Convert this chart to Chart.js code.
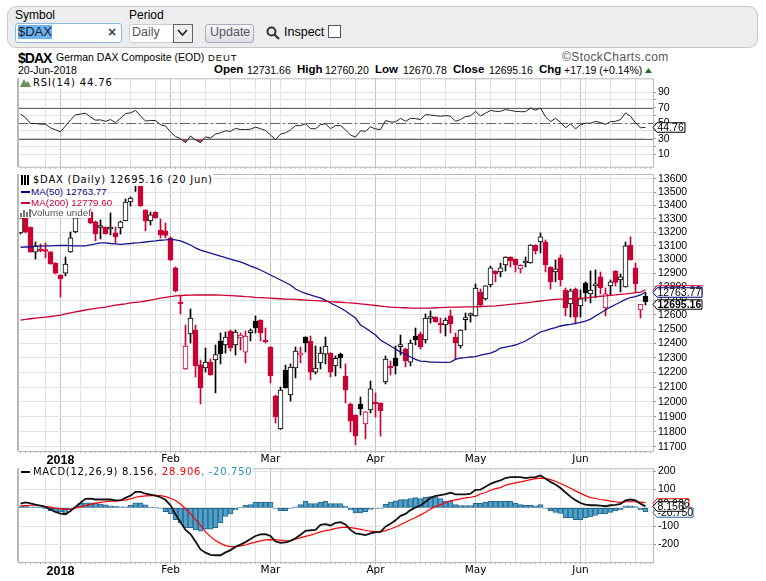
<!DOCTYPE html>
<html>
<head>
<meta charset="utf-8">
<script src="https://cdn.jsdelivr.net/npm/chart.js@4/dist/chart.umd.min.js"></script>
<style>
  html, body { margin: 0; padding: 0; background: #fff; }
  body { width: 766px; height: 581px; position: relative; overflow: hidden; font-family: "Liberation Sans", Arial, sans-serif; color: #000; }
  canvas { position: absolute; left: 0; }
  .t { position: absolute; white-space: nowrap; font-size: 12px; line-height: 14px; }
  .s { position: absolute; white-space: nowrap; font-size: 10.5px; line-height: 13px; }
  .b { font-weight: bold; font-size: 11.5px; }
  .lg { position: absolute; white-space: nowrap; background: #fff; font-family: "DejaVu Sans", sans-serif; font-size: 10px; z-index: 5; padding-left: 14px; left: 19px; }
  .ma { font-family: "Liberation Sans", sans-serif; font-size: 9.8px; padding-left: 12px; }
  .lg i { position: absolute; left: 2px; top: 5px; width: 9px; height: 2px; }
  #bar { position: absolute; left: 7px; top: 6px; width: 749px; height: 40px; background: #ebedef; border: 1px solid #c8c8c8; border-radius: 9px; }
</style>
</head>
<body>
<div id="bar"></div>
<div class="t" style="left:15px;top:8px">Symbol</div>
<div class="t" style="left:129px;top:8px">Period</div>
<div style="position:absolute;left:15px;top:23px;width:105px;height:18px;background:#fff;border:1px solid #8cb8e0;border-radius:3px"></div>
<div class="t" style="left:18px;top:25px;font-size:13px;background:#6fb0ee;color:#123">$DAX</div>
<div class="t" style="left:108px;top:25px;font-size:14px;font-weight:bold;color:#444">×</div>
<div style="position:absolute;left:129px;top:24px;width:62px;height:17px;background:#fff;border:1px solid #ccc;border-radius:3px"></div>
<div class="t" style="left:132px;top:25px;color:#555;font-size:12.5px">Daily</div>
<div style="position:absolute;left:173px;top:24px;width:18px;height:17px;background:#eee;border:1px solid #666"></div>
<svg style="position:absolute;left:177px;top:29px" width="11" height="8"><path d="M1 1 L5.5 6 L10 1" fill="none" stroke="#222" stroke-width="1.7"/></svg>
<div style="position:absolute;left:205px;top:24px;width:47px;height:17px;background:linear-gradient(#f6f6f6,#dcdfe3);border:1px solid #aab;border-radius:3px"></div>
<div class="t" style="left:210px;top:25px;color:#556;font-size:12.5px">Update</div>
<svg style="position:absolute;left:266px;top:26px" width="14" height="14"><circle cx="5.5" cy="5.5" r="4" fill="none" stroke="#333" stroke-width="2"/><path d="M8.5 8.5 L13 13" stroke="#333" stroke-width="2.2"/></svg>
<div class="t" style="left:284px;top:25px;font-size:12.5px">Inspect</div>
<div style="position:absolute;left:328px;top:25px;width:11px;height:11px;background:#fff;border:1px solid #555"></div>

<div class="t" style="left:18px;top:49px;font-weight:bold;font-size:14px;letter-spacing:-1px;line-height:18px">$DAX</div>
<div class="t" style="left:56px;top:50px;font-size:10.5px">German DAX Composite (EOD)</div>
<div class="t" style="left:208px;top:51px;font-size:9.5px;letter-spacing:.9px">DEUT</div>
<div class="t" style="left:562px;top:50px;font-size:12px;color:#555;letter-spacing:.4px">©StockCharts.com</div>
<div class="s" style="left:18px;top:64px">20-Jun-2018</div>
<div class="s b" style="left:214px;top:63px">Open</div><div class="s" style="left:247px;top:64px">12731.66</div>
<div class="s b" style="left:297px;top:63px">High</div><div class="s" style="left:325px;top:64px">12760.20</div>
<div class="s b" style="left:375px;top:63px">Low</div><div class="s" style="left:403px;top:64px">12670.78</div>
<div class="s b" style="left:453px;top:63px">Close</div><div class="s" style="left:489px;top:64px">12695.16</div>
<div class="s b" style="left:539px;top:63px">Chg</div><div class="s" style="left:564px;top:64px">+17.19 (+0.14%)</div>
<svg style="position:absolute;left:645px;top:68px" width="8" height="6"><path d="M0 5 L3.5 0 L7 5 Z" fill="#2a6a2a"/></svg>

<canvas id="rsi-chart" width="766" height="105" style="top:70px"></canvas>
<canvas id="price-chart" width="766" height="305" style="top:165px"></canvas>
<canvas id="macd-chart" width="766" height="118" style="top:460px"></canvas>

<div class="lg" style="top:77px;height:12px;line-height:12px;letter-spacing:.85px">RSI(14) 44.76<svg style="position:absolute;left:1px;top:1px" width="11" height="10"><path d="M0 9 L4 1 L6 5 L8 3 L11 9 Z" fill="#6b8f5a"/></svg></div>
<div class="lg" style="top:174px;height:12px;line-height:12px;letter-spacing:.75px">$DAX (Daily) 12695.16 (20 Jun)<svg style="position:absolute;left:2px;top:1px" width="10" height="10"><path d="M1 0V10M4 0V10M7 0V10" stroke="#000" stroke-width="2"/></svg></div>
<div class="lg ma" style="top:186px;height:11px;line-height:11px;color:#000080">MA(50) 12763.77<i style="background:#000080"></i></div>
<div class="lg ma" style="top:197px;height:11px;line-height:11px;color:#cc0033">MA(200) 12779.60<i style="background:#cc0033"></i></div>
<div class="lg ma" style="top:208px;height:10px;line-height:10px;color:#555">Volume undef<svg style="position:absolute;left:1px;top:0" width="11" height="10"><path d="M1 9V5M4 9V2M7 9V4M10 9V1" stroke="#777" stroke-width="2"/></svg></div>
<div class="lg" style="top:466px;height:12px;line-height:12px;letter-spacing:.7px">MACD(12,26,9) 8.156<span style="color:#f00">, 28.906</span><span style="color:#2b8fc7">, -20.750</span><i style="background:#000;top:5px"></i></div>

<script>
// Dias de pregão (Xetra) e faixas de grade
const dates = [
  '2017-12-18','2017-12-19','2017-12-20','2017-12-21','2017-12-22','2017-12-27','2017-12-28','2017-12-29',
  '2018-01-02','2018-01-03','2018-01-04','2018-01-05','2018-01-08','2018-01-09','2018-01-10','2018-01-11','2018-01-12',
  '2018-01-15','2018-01-16','2018-01-17','2018-01-18','2018-01-19','2018-01-22','2018-01-23','2018-01-24','2018-01-25','2018-01-26',
  '2018-01-29','2018-01-30','2018-01-31','2018-02-01','2018-02-02','2018-02-05','2018-02-06','2018-02-07','2018-02-08','2018-02-09',
  '2018-02-12','2018-02-13','2018-02-14','2018-02-15','2018-02-16','2018-02-19','2018-02-20','2018-02-21','2018-02-22','2018-02-23',
  '2018-02-26','2018-02-27','2018-02-28','2018-03-01','2018-03-02','2018-03-05','2018-03-06','2018-03-07','2018-03-08','2018-03-09',
  '2018-03-12','2018-03-13','2018-03-14','2018-03-15','2018-03-16','2018-03-19','2018-03-20','2018-03-21','2018-03-22','2018-03-23',
  '2018-03-26','2018-03-27','2018-03-28','2018-03-29','2018-04-03','2018-04-04','2018-04-05','2018-04-06',
  '2018-04-09','2018-04-10','2018-04-11','2018-04-12','2018-04-13','2018-04-16','2018-04-17','2018-04-18','2018-04-19','2018-04-20',
  '2018-04-23','2018-04-24','2018-04-25','2018-04-26','2018-04-27','2018-04-30','2018-05-02','2018-05-03','2018-05-04',
  '2018-05-07','2018-05-08','2018-05-09','2018-05-10','2018-05-11','2018-05-14','2018-05-15','2018-05-16','2018-05-17','2018-05-18',
  '2018-05-22','2018-05-23','2018-05-24','2018-05-25','2018-05-28','2018-05-29','2018-05-30','2018-05-31','2018-06-01',
  '2018-06-04','2018-06-05','2018-06-06','2018-06-07','2018-06-08','2018-06-11','2018-06-12','2018-06-13','2018-06-14','2018-06-15',
  '2018-06-18','2018-06-19','2018-06-20','2018-06-21'
];
const weekIdx = [5, 12, 17, 22, 27, 32, 37, 42, 47, 52, 57, 62, 67, 75, 80, 85, 94, 99, 104, 108, 113, 118, 123];
const monthIdx = [8, 30, 50, 71, 91, 112];
const monthLabels = ['2018', 'Feb', 'Mar', 'Apr', 'May', 'Jun'];

// Velas diárias $DAX
const opens = [
  13194,13306,13238,13053,13064,13061,13054,12973,12886,12900,
  13054,13201,13313,13402,13350,13276,13234,13238,13223,13194,
  13231,13283,13425,13550,13548,13365,13283,13350,13216,13209,
  13157,12937,12682,12223,12466,12494,12251,12230,12271,12285,
  12417,12389,12487,12389,12438,12340,12476,12557,12564,12424,
  12375,12039,11818,12216,12046,12230,12319,12445,12417,12202,
  12265,12326,12333,12244,12326,12175,11985,11911,11985,11852,
  11945,11990,11992,12134,12234,12299,12378,12361,12271,12452,
  12466,12424,12575,12585,12543,12529,12593,12445,12382,12567,
  12596,12593,12764,12714,12814,12915,12908,12959,13017,13002,
  12930,12973,12973,13105,13127,13127,12944,12908,13010,12778,
  12678,12785,12664,12828,12750,12807,12872,12649,12807,12915,
  12850,12800,13105,12937,12635,12731.66
];
const highs = [
  13321,13313,13238,13127,13113,13120,13056,12975,12888,13017,
  13201,13328,13417,13410,13365,13283,13291,13238,13343,13238,
  13283,13448,13463,13596,13552,13368,13350,13352,13298,13268,
  13165,12945,12742,12529,12642,12529,12285,12368,12292,12389,
  12473,12480,12494,12494,12473,12487,12501,12593,12566,12508,
  12378,12045,12100,12250,12258,12375,12375,12447,12452,12382,
  12375,12445,12335,12313,12333,12258,11992,11913,12032,11934,
  12141,12060,11994,12313,12278,12382,12459,12368,12424,12508,
  12480,12607,12628,12587,12578,12578,12635,12473,12496,12614,
  12614,12821,12785,12809,12951,12917,12973,13019,13019,13004,
  12960,13017,13107,13107,13194,13142,12946,12995,13032,12792,
  12785,12792,12778,12836,12915,12923,12908,12792,12850,12917,
  12893,13127,13165,12973,12673,12760.20
];
const lows = [
  13186,13194,13053,13002,13054,13010,12964,12893,12727,12879,
  13050,13195,13306,13313,13261,13135,13150,13186,13180,13120,
  13186,13283,13395,13505,13390,13209,13253,13304,13157,13157,
  12990,12765,12607,12220,12403,12168,11985,12202,12180,12060,
  12258,12333,12347,12319,12354,12265,12417,12473,12417,12403,
  12128,11858,11815,12092,12005,12162,12265,12340,12148,12189,
  12223,12258,12168,12175,12230,11992,11798,11713,11911,11752,
  11925,11898,11771,12121,12182,12189,12319,12237,12244,12389,
  12361,12403,12543,12548,12473,12452,12473,12292,12368,12494,
  12550,12591,12656,12706,12800,12836,12872,12915,12944,12908,
  12900,12944,12971,13039,13046,12908,12785,12836,12807,12593,
  12585,12536,12585,12699,12685,12721,12750,12593,12742,12807,
  12764,12798,12993,12764,12578,12670.78
];
const closes = [
  13306,13201,13053,13098,13061,13057,12966,12900,12857,12966,
  13157,13306,13402,13321,13268,13186,13238,13186,13238,13165,
  13276,13425,13455,13559,13395,13283,13328,13306,13179,13175,
  12995,12771,12678,12382,12578,12244,12094,12271,12182,12323,
  12327,12445,12368,12480,12459,12452,12480,12508,12473,12410,
  12175,11898,12080,12094,12237,12347,12333,12403,12202,12230,
  12333,12382,12202,12296,12299,12080,11871,11771,11952,11932,
  12087,11985,11938,12292,12230,12244,12382,12278,12403,12424,
  12375,12578,12580,12550,12529,12564,12536,12403,12494,12571,
  12600,12792,12671,12807,12937,12893,12937,13017,12988,12959,
  12956,12980,13105,13061,13165,12959,12836,12930,12850,12649,
  12771,12585,12714,12757,12778,12821,12792,12750,12836,12832,
  12872,13098,12995,12821,12678,12695.16
];

// Médias móveis
const ma50 = [
  13088,13090,13092,13094,13096,13098,13099,13100,13101,13101,
  13100,13099,13098,13098,13105,13113,13120,13121,13116,13113,
  13110,13113,13116,13120,13122,13127,13131,13135,13140,13143,
  13147,13142,13135,13120,13105,13083,13068,13057,13046,13035,
  13024,13013,13002,12991,12981,12966,12951,12937,12922,12904,
  12886,12868,12850,12832,12814,12785,12767,12753,12742,12731,
  12721,12703,12685,12667,12649,12628,12603,12578,12529,12508,
  12483,12459,12424,12403,12382,12361,12340,12323,12306,12289,
  12278,12275,12271,12271,12269,12269,12271,12289,12299,12302,
  12306,12309,12319,12326,12333,12347,12368,12375,12382,12389,
  12403,12417,12438,12459,12480,12490,12501,12511,12522,12529,
  12533,12540,12547,12557,12571,12593,12614,12635,12656,12674,
  12692,12710,12724,12731,12742,12763.77
];
const ma200 = [
  12564,12568,12573,12577,12581,12585,12589,12594,12599,12607,
  12614,12621,12628,12635,12642,12647,12652,12656,12663,12669,
  12674,12679,12685,12689,12693,12699,12706,12713,12719,12725,
  12730,12735,12738,12740,12741,12742,12742,12742,12742,12742,
  12741,12739,12737,12735,12733,12730,12728,12725,12723,12721,
  12719,12717,12715,12713,12712,12710,12708,12706,12704,12702,
  12700,12697,12694,12692,12690,12687,12685,12682,12679,12675,
  12671,12667,12663,12659,12656,12654,12652,12651,12649,12648,
  12648,12648,12649,12651,12652,12654,12655,12656,12656,12657,
  12657,12658,12660,12661,12663,12665,12668,12671,12675,12678,
  12682,12686,12690,12695,12699,12703,12707,12710,12712,12713,
  12715,12717,12719,12720,12725,12729,12733,12736,12740,12743,
  12747,12750,12754,12759,12763,12779.60
];

// RSI(14)
const rsi = [
  61.8,57.1,49.6,49.6,48.8,48.8,44.1,41.4,39,46.5,
  54.3,60.6,61.8,62.9,58.2,53.9,54.3,52.4,54.7,50.8,
  56.3,62.5,63.3,66.5,59.4,52.7,53.5,53.5,48,46.5,
  38.6,32.8,30,24.9,33.5,28.4,24.9,32.4,30.8,35.9,
  37.5,40.2,39.4,43.3,41.8,41.8,42.2,44.9,42.9,40.6,
  34.7,28.8,35.9,37.5,41.4,46.9,46.9,49.2,42.9,42.9,
  48,49.2,42.9,46.9,46.9,41.4,34.7,32,40.2,39.4,
  45.3,42.6,41.8,53.5,51.6,51.6,56.3,52.4,56.3,55.9,
  54.7,61,60.6,59.8,59,59.8,59,52.4,54.7,58.6,
  59.4,65.3,59.4,62.9,66.5,65.3,65.3,67.6,66.5,65.3,
  64.9,64.9,69.6,66.9,69.6,58.2,52,56.3,51.2,44.1,
  49.2,42.6,48,50,50,52.4,50.8,48.4,52,52.4,
  54.7,63.3,59,50.4,44.1,44.76
];

// MACD(12,26,9)
const macd = [
  22.8,29.8,24.5,17.5,12.3,5.3,-8.8,-22.8,-31.5,-35,
  -17.5,5.3,28,49,50.8,45.5,45.5,45.5,45.5,40.3,
  40.3,54.3,66.5,87.5,87.5,77,71.8,66.5,57.8,43.8,
  14,-35,-77,-120.8,-143.5,-183.8,-227.5,-245,-257.3,-259,
  -259,-243.3,-231,-213.5,-201.3,-187.3,-169.8,-154,-145.3,-143.5,
  -154,-183.8,-190.8,-189,-180.3,-166.3,-147,-126,-122.5,-120.8,
  -92.8,-89.3,-96.3,-82.3,-78.8,-91,-120.8,-140,-143.5,-148.8,
  -140,-133,-131.3,-103.3,-87.5,-68.3,-43.8,-33.3,-12.3,1.8,
  12.3,33.3,54.3,64.8,70,75.3,82.3,73.5,73.5,73.5,
  77,98,99.8,115.5,131.3,141.8,150.5,162.8,168,168,
  168,162.8,166.3,168,176.8,159.3,141.8,127.8,108.5,84,
  61.3,42,26.3,17.5,14,14,12.3,8.8,14,15.8,
  21,40.3,45.5,40.3,22.8,8.156
];
const signal = [
  10.5,12.3,14,14,10.5,7,3.5,-1.8,-5.3,-8.8,
  -8.8,-1.8,5.3,12.3,19.3,24.5,29.8,33.3,36.8,36.8,
  40.3,42,49,57.8,63,64.8,66.5,68.3,66.5,61.3,
  52.5,40.3,21,-5.3,-33.3,-64.8,-96.3,-131.3,-157.5,-178.5,
  -194.3,-206.5,-211.8,-211.8,-208.3,-203,-194.3,-187.3,-180.3,-175,
  -173.3,-175,-176.8,-180.3,-178.5,-171.5,-162.8,-155.8,-148.8,-140,
  -131.3,-124.3,-120.8,-112,-108.5,-105,-108.5,-112,-117.3,-122.5,
  -127.8,-131.3,-131.3,-124.3,-115.5,-105,-92.8,-78.8,-64.8,-52.5,
  -38.5,-24.5,-7,7,17.5,28,38.5,43.8,49,54.3,
  57.8,63,75.3,84,96.3,105,110.3,124.3,131.3,136.5,
  141.8,147,154,159.3,162.8,161,154,145.3,133,120.8,
  106.8,92.8,78.8,66.5,56,50.8,45.5,42,36.8,33.3,
  29.8,33.3,33.3,33.3,31.5,28.906
];
const histogram = [
  10,9,5,5,2,-5,-16,-24,-23,-35,
  -9,5,26,28,28,28,21,15.8,10.5,8.8,
  5.3,5,14,28,28,15.8,3.5,1.8,-3.5,-21,
  -33,-65,-82,-108,-108,-121,-128,-117,-117,-108,
  -82,-47,-33,-12,2,14,17.5,30,30,30,
  30,-3.5,-16,-16,-3.5,5,17.5,35,23,23,
  30,35,23,23,23,10,-12,-28,-28,-21,
  -9,-3.5,-3.5,19,31,38,45,45,51,56,
  51,58,61,61,51,37,38,17.5,12,12,
  12,24.5,24.5,30,35,35,35,35,35,24.5,
  17.5,14,14,10.5,17.5,-3,-17.5,-24.5,-30,-54,
  -54,-65,-65,-54,-49,-42,-33,-33,-24.5,-17.5,
  -12,10.5,10.5,7,-12,-20.75
];

// Ticks dos eixos
const priceTicks = [13600,13500,13400,13300,13200,13100,13000,12900,12800,12700,12600,12500,12400,12300,12200,12100,12000,11900,11800,11700];
const rsiTicks = [10,20,30,40,50,60,70,80,90];
const rsiLabels = [10,30,50,70,90];
const macdTicks = [-200,-100,0,100,200];

const RED = '#cc0033';
const TICK_FONT = { family: 'Liberation Sans', size: 10.5 };

// Cores das velas: preta se fechou acima do dia anterior, vazada se fechou acima da abertura
const candleColor = closes.map((c, i) => (i === 0 || c >= closes[i - 1]) ? '#000' : RED);
const bodyFill = closes.map((c, i) => c >= opens[i] ? '#fff' : candleColor[i]);

// Moldura do painel
const framePlugin = {
  id: 'frame',
  afterDraw(chart) {
    const a = chart.chartArea, ctx = chart.ctx;
    ctx.save();
    ctx.strokeStyle = '#b8b8b8';
    ctx.lineWidth = 1;
    ctx.strokeRect(a.left + 0.5, a.top + 0.5, a.right - a.left, a.bottom - a.top);
    ctx.lineWidth = 2;
    ctx.beginPath();
    ctx.moveTo(a.left, a.top);
    ctx.lineTo(a.left, a.bottom);
    ctx.stroke();
    ctx.restore();
  }
};

// Linhas de referência do RSI (70, 50, 30)
const refLinesPlugin = {
  id: 'refLines',
  beforeDatasetsDraw(chart, args, opts) {
    if (!opts.lines) return;
    const a = chart.chartArea, ctx = chart.ctx, y = chart.scales.y;
    opts.lines.forEach(l => {
      const p = Math.round(y.getPixelForValue(l.value)) + 0.5;
      ctx.save();
      ctx.strokeStyle = '#666';
      ctx.lineWidth = 1;
      ctx.setLineDash(l.dash || []);
      ctx.beginPath();
      ctx.moveTo(a.left, p);
      ctx.lineTo(a.right, p);
      ctx.stroke();
      ctx.restore();
    });
  }
};

// Etiquetas de valor à direita do painel
const tagsPlugin = {
  id: 'valueTags',
  afterDraw(chart, args, opts) {
    if (!opts.tags) return;
    const ctx = chart.ctx, x0 = chart.chartArea.right, y = chart.scales.y;
    opts.tags.forEach(tag => {
      const cy = Math.round(y.getPixelForValue(tag.value) + (tag.dy || 0)) + 0.5;
      const h = tag.h || 9.5;
      ctx.save();
      ctx.beginPath();
      ctx.moveTo(x0, cy);
      ctx.lineTo(x0 + 4, cy - h / 2);
      ctx.lineTo(x0 + tag.w, cy - h / 2);
      ctx.lineTo(x0 + tag.w, cy + h / 2);
      ctx.lineTo(x0 + 4, cy + h / 2);
      ctx.closePath();
      ctx.fillStyle = '#fff';
      ctx.fill();
      ctx.strokeStyle = tag.color;
      ctx.lineWidth = 1;
      ctx.stroke();
      ctx.fillStyle = '#000';
      ctx.font = (tag.bold ? 'bold ' : '') + '10.5px "Liberation Sans"';
      ctx.textBaseline = 'middle';
      ctx.fillText(tag.text, x0 + 4.5, cy + 0.5);
      ctx.restore();
    });
  }
};

Chart.register(framePlugin, refLinesPlugin, tagsPlugin);

// Escala de datas comum aos três painéis
function xScale(height, showLabels) {
  return {
    type: 'category',
    offset: true,
    afterFit(scale) { scale.height = height; },
    grid: {
      offset: false,
      drawTicks: true,
      tickLength: 2,
      tickColor: '#aaa',
      lineWidth: 1,
      color(ctx) {
        if (monthIdx.includes(ctx.index)) return '#c4c4c4';
        if (weekIdx.includes(ctx.index)) return '#e2e2e2';
        return 'rgba(0,0,0,0)';
      }
    },
    border: { display: false },
    ticks: {
      display: showLabels,
      autoSkip: false,
      maxRotation: 0,
      minRotation: 0,
      padding: 0,
      color: '#000',
      font(ctx) {
        return ctx.index === monthIdx[0]
          ? { family: 'Liberation Sans', size: 12.5, weight: 'bold' }
          : { family: 'DejaVu Sans', size: 10.5 };
      },
      callback(v, i) {
        const m = monthIdx.indexOf(i);
        return m >= 0 ? monthLabels[m] : '';
      }
    }
  };
}

// Escala vertical à direita, largura fixa para alinhar os painéis
function yScale(extra) {
  return Object.assign({
    position: 'right',
    afterFit(scale) { scale.width = 113; },
    border: { display: false },
    grid: { color: '#e2e2e2', lineWidth: 1, drawTicks: true, tickLength: 3, tickColor: '#999' }
  }, extra);
}

function baseOptions(padTop, scales, plugins) {
  return {
    responsive: false,
    animation: false,
    events: [],
    layout: { padding: { left: 18, top: padTop, right: 0, bottom: 0 } },
    scales: scales,
    plugins: Object.assign({ legend: { display: false }, tooltip: { enabled: false } }, plugins)
  };
}

// Painel RSI
new Chart(document.getElementById('rsi-chart'), {
  type: 'line',
  data: {
    labels: dates,
    datasets: [{
      data: rsi,
      borderColor: '#222',
      borderWidth: 1,
      pointRadius: 0,
      tension: 0,
      fill: { target: { value: 30 }, above: 'rgba(0,0,0,0)', below: '#a0566a' }
    }]
  },
  options: baseOptions(6, {
    x: xScale(2, false),
    y: yScale({
      min: -6.2,
      max: 108,
      afterBuildTicks(scale) { scale.ticks = rsiTicks.map(v => ({ value: v })); },
      ticks: {
        autoSkip: false,
        padding: 2,
        color: '#000',
        font: TICK_FONT,
        callback: v => rsiLabels.includes(v) ? String(v) : ''
      }
    })
  }, {
    refLines: { lines: [{ value: 70 }, { value: 30 }, { value: 50, dash: [10, 3, 2, 3] }] },
    valueTags: { tags: [{ value: 44.76, text: '44.76', color: '#000', w: 32 }] }
  })
});

// Painel de preços: corpo e pavio como barras flutuantes
new Chart(document.getElementById('price-chart'), {
  type: 'bar',
  data: {
    labels: dates,
    datasets: [
      { type: 'line', data: ma200, borderColor: RED, borderWidth: 1.3, pointRadius: 0, tension: 0, order: 1 },
      { type: 'line', data: ma50, borderColor: '#14148c', borderWidth: 1.3, pointRadius: 0, tension: 0, order: 1 },
      {
        data: opens.map((o, i) => [Math.min(o, closes[i]), Math.max(o, closes[i])]),
        backgroundColor: bodyFill,
        borderColor: candleColor,
        borderWidth: 1,
        borderSkipped: false,
        barThickness: 5,
        minBarLength: 2,
        grouped: false,
        order: 2
      },
      {
        data: lows.map((l, i) => [l, highs[i]]),
        backgroundColor: candleColor,
        borderWidth: 0,
        barThickness: 1,
        grouped: false,
        order: 3
      }
    ]
  },
  options: baseOptions(9, {
    x: xScale(19, true),
    y: yScale({
      type: 'logarithmic',
      min: 11673,
      max: 13638,
      afterBuildTicks(scale) { scale.ticks = priceTicks.map(v => ({ value: v })); },
      ticks: { autoSkip: false, padding: 2, color: '#000', font: TICK_FONT, callback: v => String(v) }
    })
  }, {
    valueTags: {
      tags: [
        { value: 12779.60, text: '12779.60', color: RED, w: 49 },
        { value: 12763.77, text: '12763.77', color: '#000080', w: 49 },
        { value: 12695.16, text: '12695.16', color: '#000', w: 49, bold: true, dy: 2 }
      ]
    }
  })
});

// Painel MACD
new Chart(document.getElementById('macd-chart'), {
  type: 'bar',
  data: {
    labels: dates,
    datasets: [
      { type: 'line', data: signal, borderColor: '#f00', borderWidth: 1.2, pointRadius: 0, tension: 0, order: 2 },
      { type: 'line', data: macd, borderColor: '#111', borderWidth: 1.8, pointRadius: 0, tension: 0, order: 1 },
      {
        data: histogram,
        backgroundColor: '#52a0c8',
        borderColor: '#23678f',
        borderWidth: 1,
        borderSkipped: false,
        barThickness: 5,
        order: 3
      }
    ]
  },
  options: baseOptions(5, {
    x: xScale(16, true),
    y: yScale({
      min: -296,
      max: 216,
      afterBuildTicks(scale) { scale.ticks = macdTicks.map(v => ({ value: v })); },
      ticks: { autoSkip: false, padding: 2, color: '#000', font: TICK_FONT, callback: v => String(v) }
    })
  }, {
    valueTags: {
      tags: [
        { value: 28.906, text: '28.906', color: '#f00', w: 36 },
        { value: -20.750, text: '-20.750', color: '#336699', w: 40 },
        { value: 8.156, text: '8.156', color: '#000', w: 30 }
      ]
    }
  })
});
</script>
</body>
</html>
